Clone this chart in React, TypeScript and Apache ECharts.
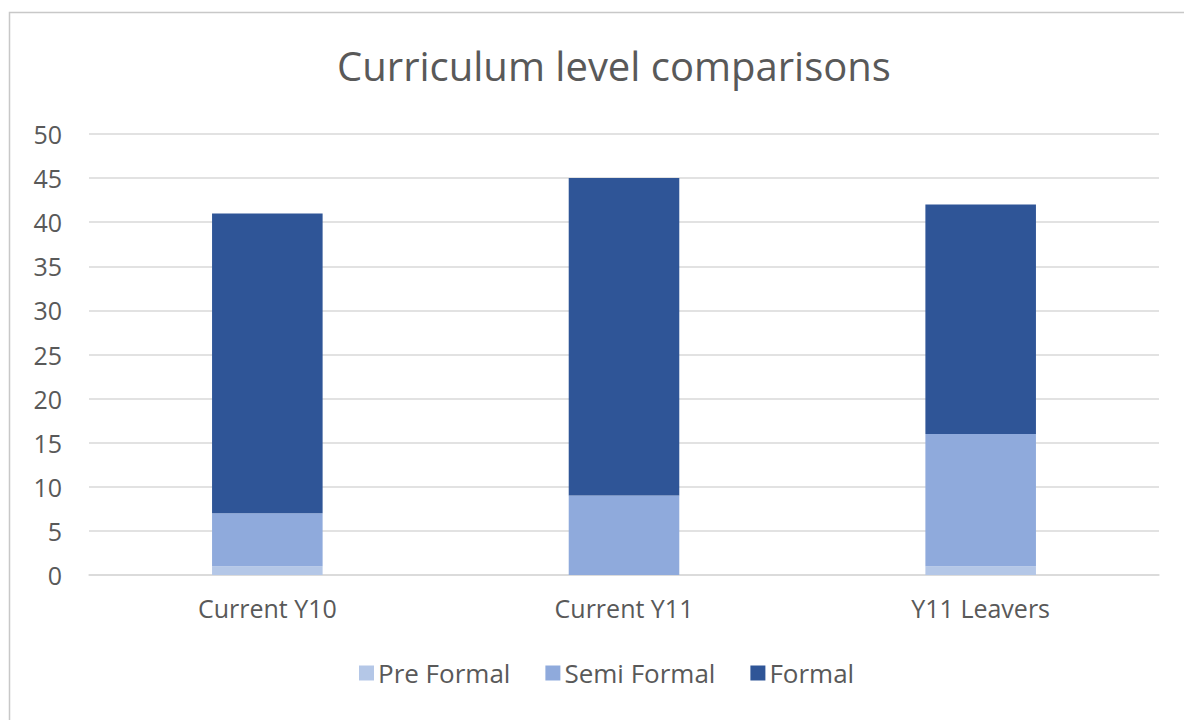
import React, { useEffect, useRef } from "react";
import * as echarts from "echarts";

const categories = ["Current Y10", "Current Y11", "Y11 Leavers"];
const preFormal = [1, 0, 1];
const semiFormal = [6, 9, 15];
const formal = [34, 36, 26];

const FONT = "'Open Sans', 'Noto Sans', sans-serif";

export default function App() {
  const ref = useRef<HTMLDivElement>(null);
  useEffect(() => {
    const chart = echarts.init(ref.current!, null, { renderer: "svg" });
    const barStyle = (name: string, data: number[], color: string) => ({
      name,
      type: "bar",
      stack: "total",
      data,
      barWidth: "31%",
      itemStyle: { color },
      emphasis: { disabled: true },
    });
    chart.setOption({
      animation: false,
      backgroundColor: "#ffffff",
      textStyle: { fontFamily: FONT },
      title: {
        text: "Curriculum level comparisons",
        left: 609,
        top: 40,
        textAlign: "center",
        textStyle: { fontFamily: FONT, fontSize: 40, fontWeight: "normal", color: "#595959" },
      },
      graphic: [
        {
          type: "rect",
          shape: { x: 9.5, y: 12.5, width: 1200, height: 720 },
          style: { fill: "none", stroke: "#c8c8c8", lineWidth: 1.5 },
          silent: true,
        },
      ],
      legend: {
        top: 655,
        left: 354,
        itemWidth: 15,
        itemHeight: 15,
        itemGap: 35,
        icon: "rect",
        data: ["Pre Formal", "Semi Formal", "Formal"],
        textStyle: { fontFamily: FONT, fontSize: 26, color: "#595959", padding: [0, 0, 0, -1] },
      },
      grid: { left: 89, right: 25, top: 134, bottom: 145 },
      xAxis: {
        type: "category",
        data: categories,
        axisTick: { show: false },
        axisLine: { lineStyle: { color: "#d9d9d9", width: 1.5 } },
        axisLabel: { fontFamily: FONT, fontSize: 25, color: "#595959", margin: 20 },
      },
      yAxis: {
        type: "value",
        min: 0,
        max: 50,
        interval: 5,
        axisLine: { show: false },
        axisTick: { show: false },
        splitLine: { lineStyle: { color: "#d9d9d9", width: 1.5 } },
        axisLabel: { fontFamily: FONT, fontSize: 25, color: "#595959", margin: 27 },
      },
      series: [
        barStyle("Pre Formal", preFormal, "#b4c7e7"),
        barStyle("Semi Formal", semiFormal, "#8faadc"),
        barStyle("Formal", formal, "#2f5597"),
      ],
    });
    return () => chart.dispose();
  }, []);
  return (
    <div
      ref={ref}
      style={{ position: "fixed", left: 0, top: 0, width: 1184, height: 720 }}
    />
  );
}
